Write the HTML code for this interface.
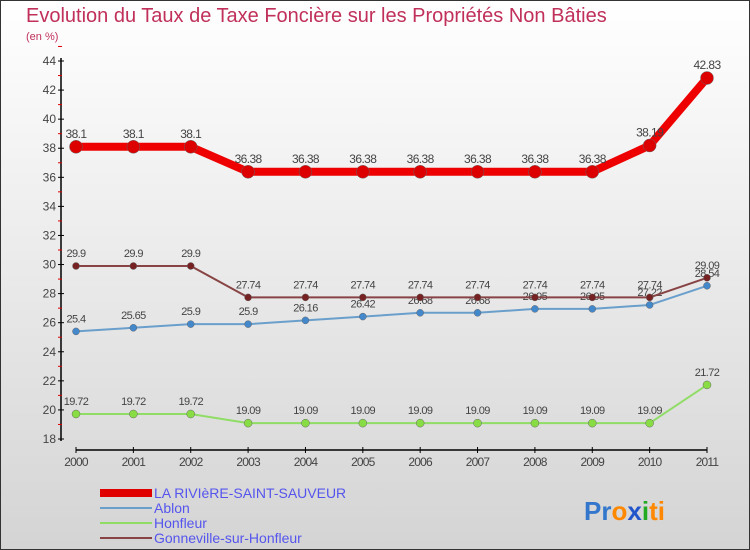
<!DOCTYPE html>
<html><head><meta charset="utf-8"><style>
body{margin:0}
#c{width:750px;height:550px;position:relative;overflow:hidden;font-family:"Liberation Sans",sans-serif}
</style></head><body>
<div id="c">
<svg id="s" width="750" height="550" xmlns="http://www.w3.org/2000/svg">
<defs><linearGradient id="bg" x1="0" y1="0" x2="0" y2="1"><stop offset="0" stop-color="#ffffff"/><stop offset="1" stop-color="#d4d4d4"/></linearGradient></defs>
<rect x="0.5" y="0.5" width="749" height="549" fill="url(#bg)" stroke="#333"/>
<text x="26" y="22" font-size="20" fill="#c0305a">Evolution du Taux de Taxe Foncière sur les Propriétés Non Bâties</text>
<text x="26" y="40" font-size="11" fill="#c0305a">(en %)</text>
<g id="axes"></g><g id="series"></g>
<g font-size="14" fill="#5555ee">
<rect x="100" y="489" width="52" height="8" fill="#e00000"/>
<text x="154" y="498">LA RIVIèRE-SAINT-SAUVEUR</text>
<rect x="100" y="507" width="52" height="2" fill="#6a9fcc"/>
<text x="154" y="513">Ablon</text>
<rect x="100" y="522" width="52" height="2" fill="#90dd66"/>
<text x="154" y="528">Honfleur</text>
<rect x="100" y="537" width="52" height="2" fill="#884444"/>
<text x="154" y="543">Gonneville-sur-Honfleur</text>
</g>
<text x="584" y="520" font-size="26" font-weight="bold"><tspan fill="#3377cc">Pr</tspan><tspan fill="#ff8800">o</tspan><tspan fill="#2255cc">x</tspan><tspan fill="#22aa22">i</tspan><tspan fill="#ff8800">ti</tspan></text>
</svg></div>
<script>
const years=["2000","2001","2002","2003","2004","2005","2006","2007","2008","2009","2010","2011"];
const yTicks=[18,20,22,24,26,28,30,32,34,36,38,40,42,44];
const riviere=[38.1,38.1,38.1,36.38,36.38,36.38,36.38,36.38,36.38,36.38,38.19,42.83];
const ablon=[25.4,25.65,25.9,25.9,26.16,26.42,26.68,26.68,26.95,26.95,27.22,28.54];
const honfleur=[19.72,19.72,19.72,19.09,19.09,19.09,19.09,19.09,19.09,19.09,19.09,21.72];
const gonneville=[29.9,29.9,29.9,27.74,27.74,27.74,27.74,27.74,27.74,27.74,27.74,29.09];
const NS="http://www.w3.org/2000/svg";
const X=i=>76+i*(707-76)/(years.length-1);
const Y=v=>439-(v-18)*(439-61)/26;
function mk(t,a,p){const e=document.createElementNS(NS,t);for(const k in a)e.setAttribute(k,a[k]);p.appendChild(e);return e;}
const ax=document.getElementById('axes'),sg=document.getElementById('series');
let l=mk('line',{x1:61,y1:58,x2:61,y2:441,stroke:'#000','stroke-width':1.5},ax);


yTicks.forEach(v=>{mk('line',{x1:58,x2:64,y1:Y(v),y2:Y(v),stroke:'#000'},ax);
mk('line',{x1:58,x2:62,y1:Y(v+1),y2:Y(v+1),stroke:'#d00'},ax);
const t=mk('text',{x:56,y:Y(v)+4,'text-anchor':'end','font-size':12,fill:'#444'},ax);t.textContent=v;

});
l=mk('line',{x1:76,y1:450,x2:707,y2:450,stroke:'#000','stroke-width':1.5},ax);


years.forEach((y,i)=>{mk('line',{x1:X(i),x2:X(i),y1:447,y2:453,stroke:'#000'},ax);
const t=mk('text',{x:X(i),y:466,'text-anchor':'middle','font-size':12,fill:'#444','letter-spacing':-0.8},ax);t.textContent=y;

});
function series(name,data,color,w,r,dot,fs){
const g=mk('g',{},sg);


const p=mk('polyline',{points:data.map((v,i)=>X(i)+','+Y(v)).join(' '),fill:'none',stroke:color,'stroke-width':w,'stroke-linejoin':'round'},g);


data.forEach((v,i)=>{const c=mk('circle',{cx:X(i),cy:Y(v),r:r,fill:dot,stroke:'#666','stroke-width':0.5},g);


const t=mk('text',{x:X(i),y:Y(v)-9,'text-anchor':'middle','font-size':fs,fill:'#444','letter-spacing':-0.6},g);t.textContent=v;

});}
series('honfleur',honfleur,'#90dd66',2,4,'#88dd44',11);
series('ablon',ablon,'#6a9fcc',2,3.5,'#4488cc',11);
series('gonneville',gonneville,'#884444',2,3.5,'#772222',11);
series('riviere',riviere,'#ee0000',8,6.5,'#dd0000',12);
</script>
</body></html>
